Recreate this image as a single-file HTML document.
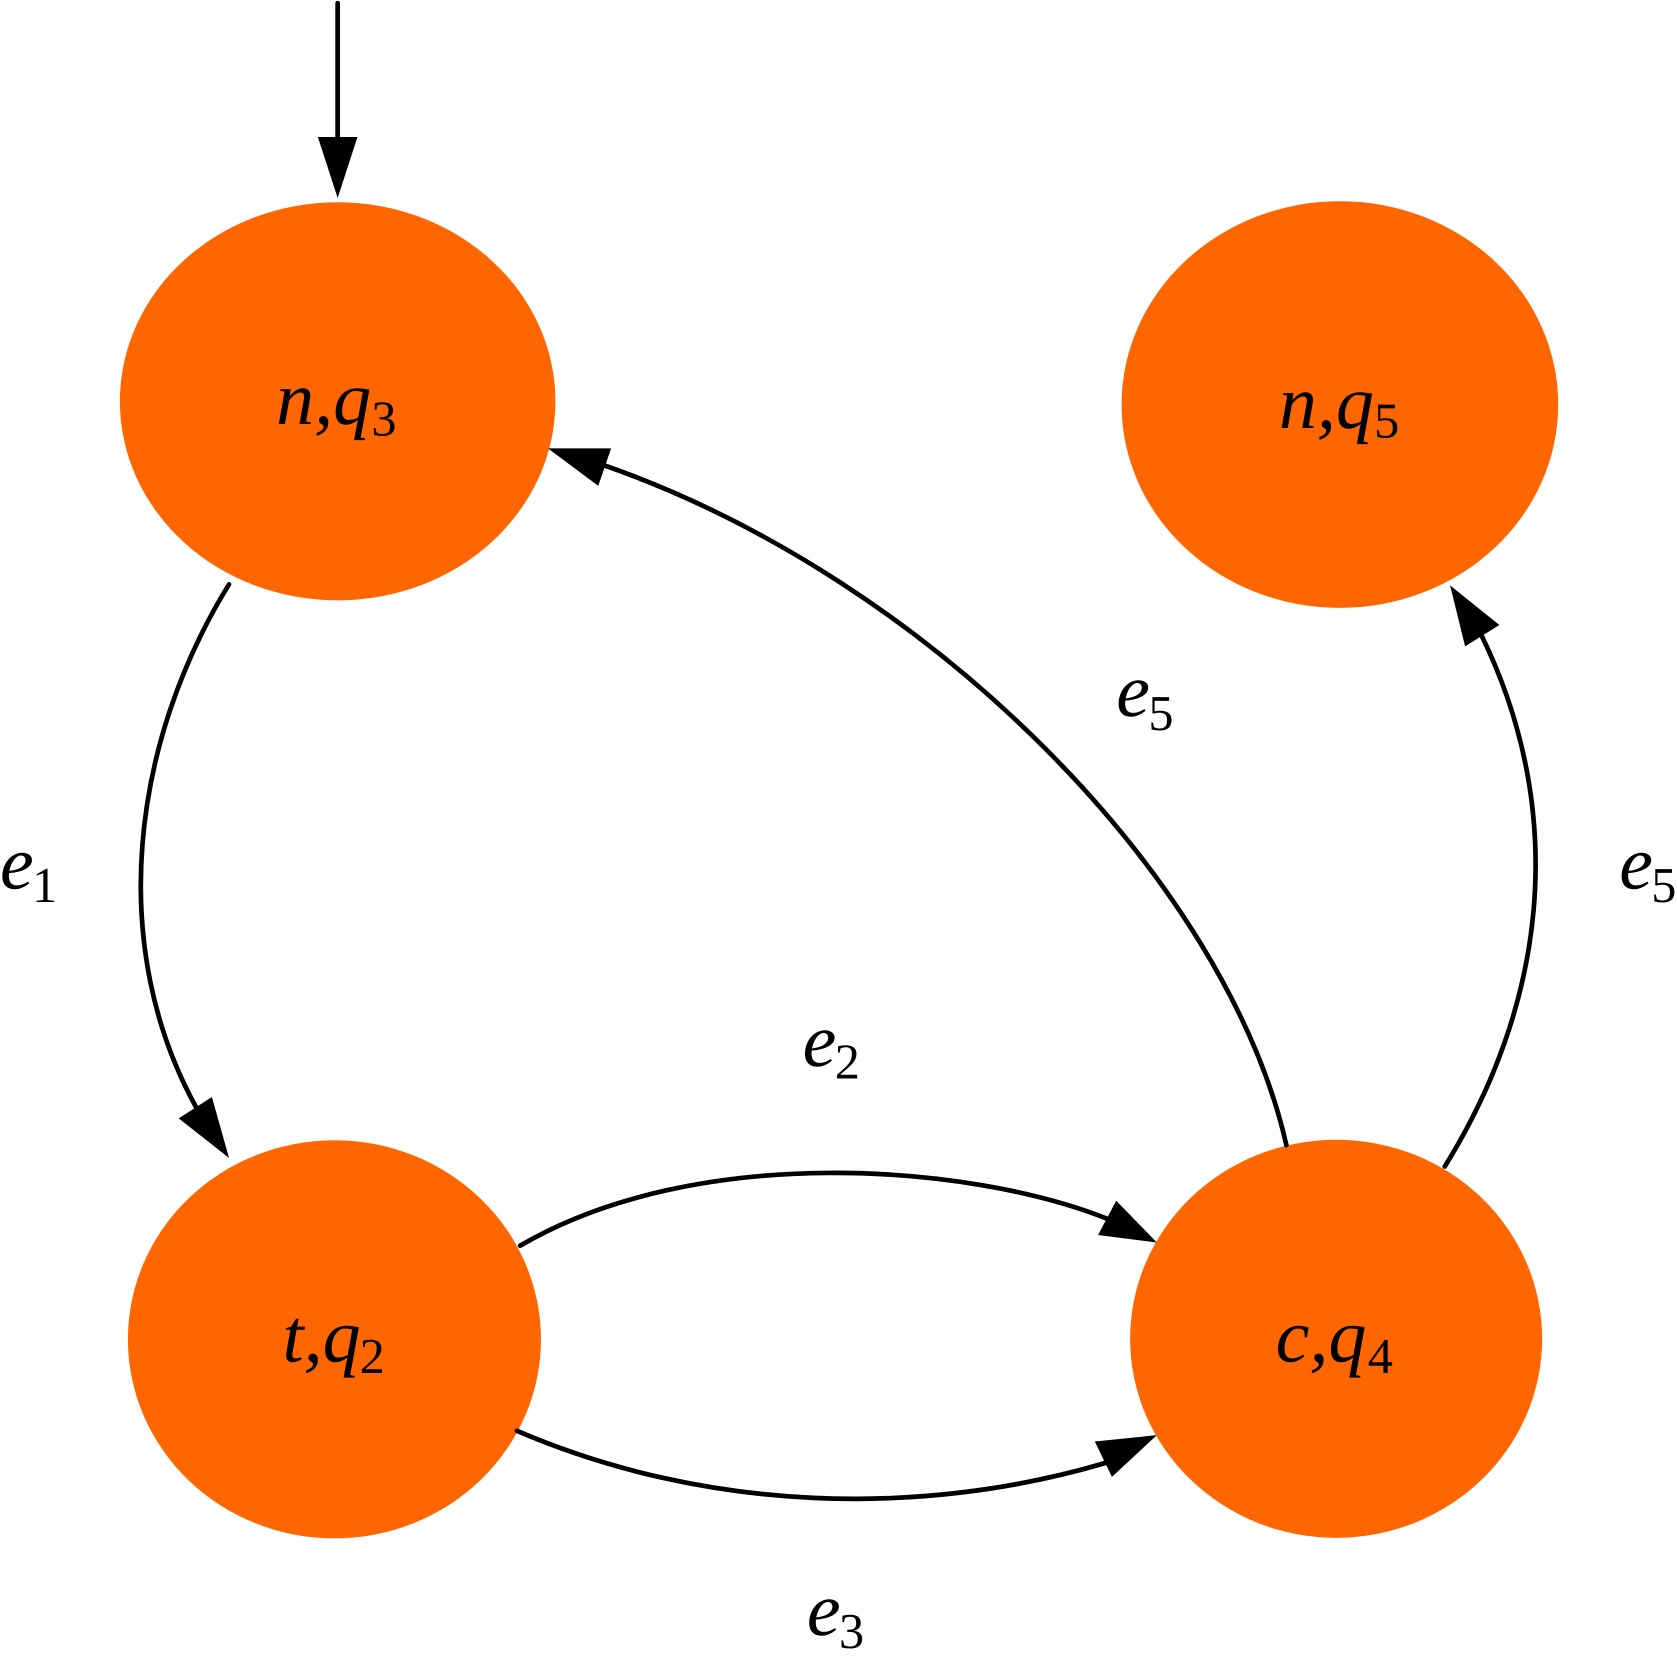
<!DOCTYPE html>
<html><head><meta charset="utf-8"><style>
html,body{margin:0;padding:0;background:#fff}
svg{display:block}
text{font-family:"Liberation Serif",serif;fill:#000;text-rendering:geometricPrecision}
.i{font-style:italic;font-size:71px}
.s{font-size:47px}
</style></head><body>
<svg width="1677" height="1662" viewBox="0 0 1567 1553" xmlns="http://www.w3.org/2000/svg">
<rect width="1567" height="1553" fill="#fff"/>
<g fill="#ff6600">
<ellipse cx="315.5" cy="375" rx="203.5" ry="186"/>
<ellipse cx="1252" cy="378" rx="204" ry="190"/>
<ellipse cx="312.5" cy="1251.5" rx="193" ry="186"/>
<ellipse cx="1248.5" cy="1251" rx="192.5" ry="186"/>
</g>
<g fill="none" stroke="#000" stroke-width="4.4" stroke-linecap="round">
<path d="M315.5,3V130"/>
<path d="M214,546C122,695 100,885 184,1036"/>
<path d="M1350,1090C1442,942 1468,765 1384,593"/>
<path d="M1202,1070C1146,823 871,542 565,435"/>
<path d="M486,1164C650,1068 905,1087 1035,1139"/>
<path d="M483,1337C660,1413 860,1418 1033,1367"/>
</g>
<g fill="#000">
<polygon points="297,128 334,128 315.5,185"/>
<polygon points="198,1025 214,1082 167,1045"/>
<polygon points="1355,547 1401,584 1369,604"/>
<polygon points="512,419 571,419 559,454"/>
<polygon points="1081,1161 1026,1154 1043,1122"/>
<polygon points="1081,1341 1023,1347 1039,1380"/>
</g>
<text class="i" x="258" y="396">n,q</text><text class="s" x="347" y="407">3</text>
<text class="i" x="1195" y="400">n,q</text><text class="s" x="1284" y="409">5</text>
<text class="i" x="264" y="1272">t,q</text><text class="s" x="336" y="1283">2</text>
<text class="i" x="1192" y="1272">c,q</text><text class="s" x="1278" y="1283">4</text>
<text class="i" x="0" y="830">e</text><text class="s" x="30" y="843">1</text>
<text class="i" x="1043" y="669">e</text><text class="s" x="1073" y="682">5</text>
<text class="i" x="1513" y="830">e</text><text class="s" x="1543" y="843">5</text>
<text class="i" x="750" y="996">e</text><text class="s" x="780" y="1008">2</text>
<text class="i" x="754" y="1528">e</text><text class="s" x="784" y="1540">3</text>
</svg>
</body></html>
